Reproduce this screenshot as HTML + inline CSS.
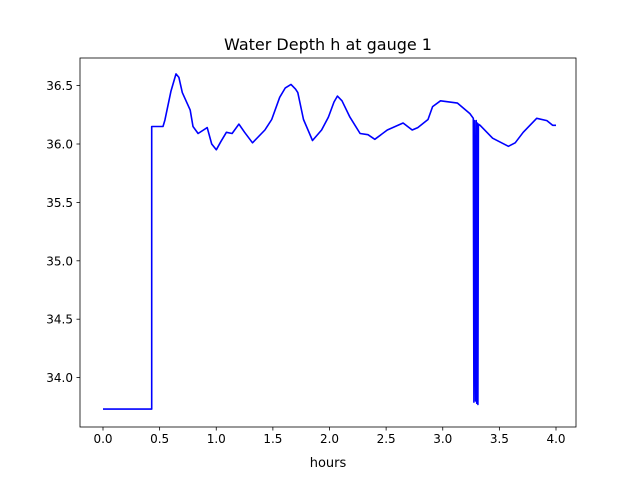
<!DOCTYPE html>
<html><head><meta charset="utf-8"><style>
body{margin:0;background:#fff}
text{font-family:"DejaVu Sans","Liberation Sans",sans-serif;fill:#000}
</style></head><body>
<svg id="chart" width="640" height="480" xmlns="http://www.w3.org/2000/svg">
<rect width="640" height="480" fill="#fff"/>
<text x="328" y="50" font-size="16" text-anchor="middle">Water Depth h at gauge 1</text>
<g id="axes"></g>
<text x="328" y="467" font-size="13" text-anchor="middle">hours</text>
</svg>
<script>
const hours=[0,0.43,0.43,0.53,0.547,0.60,0.645,0.67,0.70,0.77,0.795,0.84,0.92,0.96,1.0,1.04,1.09,1.14,1.20,1.25,1.32,1.43,1.49,1.56,1.61,1.66,1.70,1.72,1.77,1.85,1.93,1.99,2.04,2.07,2.11,2.18,2.27,2.34,2.40,2.51,2.65,2.73,2.78,2.87,2.91,2.98,3.13,3.24,3.27,3.275,3.28,3.29,3.295,3.30,3.305,3.31,3.315,3.33,3.44,3.58,3.64,3.71,3.83,3.92,3.97,4.0];
const depth=[33.73,33.73,36.15,36.15,36.205,36.45,36.60,36.57,36.44,36.29,36.15,36.09,36.14,36.00,35.95,36.02,36.10,36.09,36.17,36.10,36.01,36.12,36.21,36.40,36.48,36.51,36.47,36.44,36.21,36.03,36.12,36.23,36.36,36.41,36.37,36.23,36.09,36.08,36.04,36.12,36.18,36.12,36.14,36.21,36.32,36.37,36.35,36.26,36.22,33.79,36.2,33.8,36.2,33.78,36.18,33.77,36.17,36.16,36.05,35.98,36.01,36.10,36.22,36.20,36.16,36.16];
const xTicks=[0,0.5,1,1.5,2,2.5,3,3.5,4];
const yTicks=[34.0,34.5,35.0,35.5,36.0,36.5];
const L=80,R=576,T=58,B=427;
const X=h=>103+h*113.25;
const Y=d=>144-(d-36)*116.8;
const NS="http://www.w3.org/2000/svg";
const g=document.getElementById('axes');
function mk(t,a){const e=document.createElementNS(NS,t);for(const k in a)e.setAttribute(k,a[k]);g.appendChild(e);return e;}
const line=mk('polyline',{points:hours.map((h,i)=>X(h).toFixed(1)+','+Y(depth[i]).toFixed(1)).join(' '),fill:'none',stroke:'#0000ff','stroke-width':1.6,'stroke-linejoin':'round'});


const frame=mk('rect',{x:L,y:T,width:R-L,height:B-T,fill:'none',stroke:'#000','stroke-width':0.8});


xTicks.forEach(v=>{
 const x=X(v);
 const tk=mk('line',{x1:x,x2:x,y1:B,y2:B+3.5,stroke:'#000','stroke-width':0.8});
 
 
 const t=mk('text',{x:x,y:B+16,'font-size':12,'text-anchor':'middle'});
 t.textContent=v.toFixed(1);
 
 
});
yTicks.forEach(v=>{
 const y=Y(v);
 const tk=mk('line',{x1:L-3.5,x2:L,y1:y,y2:y,stroke:'#000','stroke-width':0.8});
 
 
 const t=mk('text',{x:L-7,y:y+4.5,'font-size':12,'text-anchor':'end'});
 t.textContent=v.toFixed(1);
 
 
});
</script>
</body></html>
